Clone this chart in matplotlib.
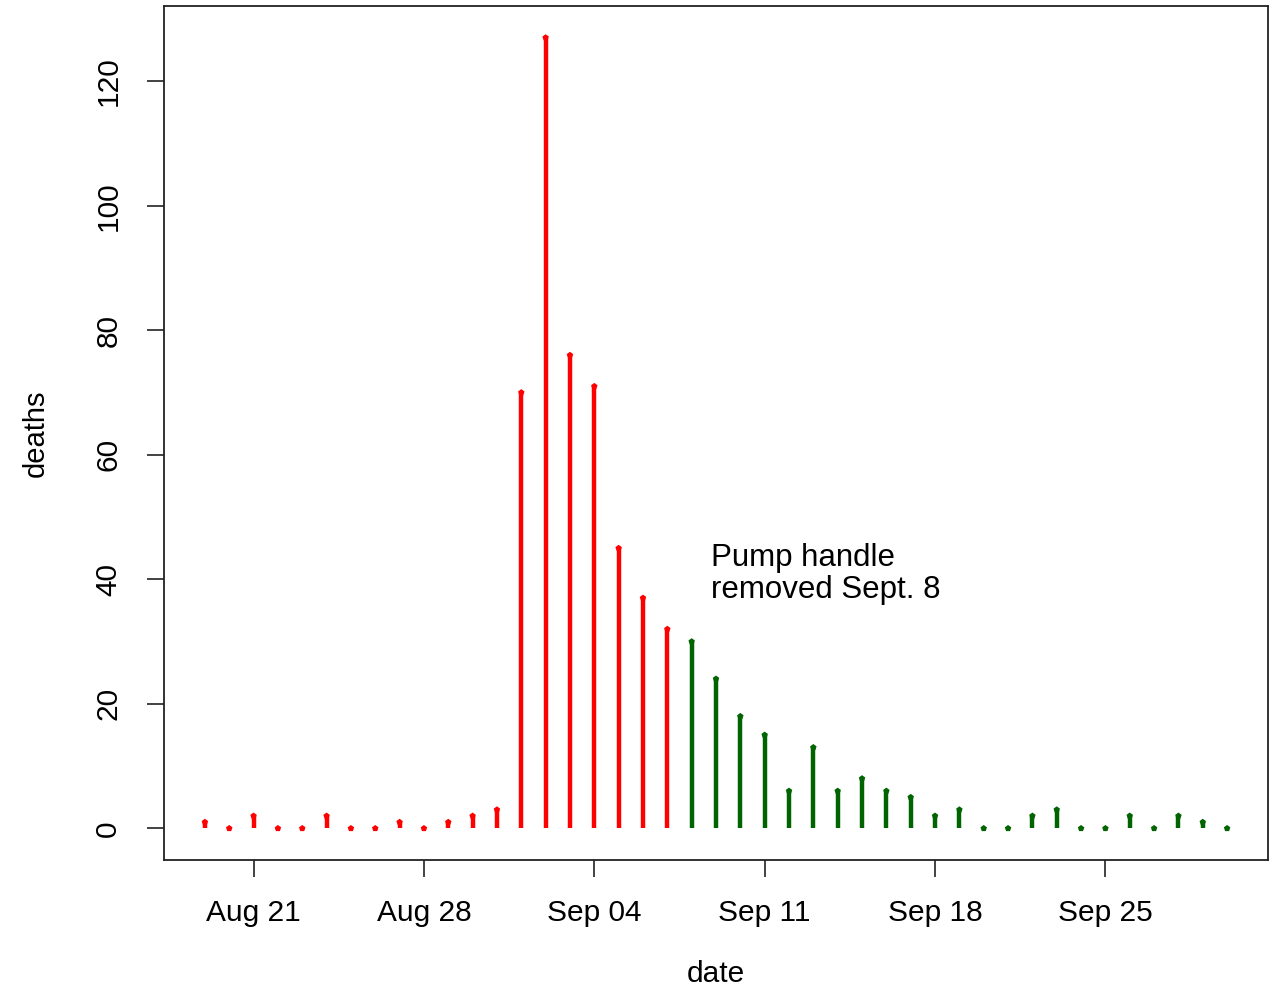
import matplotlib
matplotlib.use("Agg")
import matplotlib.pyplot as plt
import numpy as np
import datetime as dt
import matplotlib.dates as mdates

start_date = "1854-08-19"
deaths = [1, 0, 2, 0, 0, 2, 0, 0, 1, 0, 1, 2, 3, 70, 127, 76, 71, 45, 37, 32,
          30, 24, 18, 15, 6, 13, 6, 8, 6, 5, 2, 3, 0, 0, 2, 3, 0, 0, 2, 0, 2, 1, 0]
removal_date = "1854-09-08"
tick_labels = ["Aug 21", "Aug 28", "Sep 04", "Sep 11", "Sep 18", "Sep 25"]
tick_dates = ["1854-08-21", "1854-08-28", "1854-09-04", "1854-09-11", "1854-09-18", "1854-09-25"]
annotation = "Pump handle\nremoved Sept. 8"

plt.rcParams['font.family'] = ['Liberation Sans', 'DejaVu Sans']

d0 = dt.date.fromisoformat(start_date)
dates = [d0 + dt.timedelta(days=i) for i in range(len(deaths))]
x = mdates.date2num(dates)
xr = mdates.date2num(dt.date.fromisoformat(removal_date))
colors = ["red" if xi < xr else "#006400" for xi in x]

fig = plt.figure(figsize=(12.81, 9.91), dpi=100)
ax = fig.add_axes([164/1281, 1-860/991, (1268-164)/1281, (860-6)/991])

ax.vlines(x, 0, deaths, colors=colors, linewidth=3.2, capstyle='butt')
ax.scatter(x, deaths, c=colors, marker='p', s=24, zorder=3, linewidths=0)

rng = x[-1] - x[0]
ax.set_xlim(x[0] - 0.04*rng, x[-1] + 0.04*rng)
ymax = max(deaths)
ax.set_ylim(-0.04*ymax, ymax*1.04)

ax.set_xticks(mdates.date2num([dt.date.fromisoformat(t) for t in tick_dates]))
ax.set_xticklabels(tick_labels)
ax.set_yticks([0, 20, 40, 60, 80, 100, 120])
ax.tick_params(axis='both', direction='out', length=12, width=1.2, labelsize=21.5, colors='#222222', labelcolor='black')
ax.tick_params(axis='x', pad=16)
ax.tick_params(axis='y', pad=18)
for lab in ax.get_yticklabels():
    lab.set_rotation(90)
    lab.set_va('center')
for s in ax.spines.values():
    s.set_linewidth(1.3)
    s.set_color('#222222')

ax.set_xlabel("date", fontsize=21.5, labelpad=24)
ax.set_ylabel("deaths", fontsize=21, labelpad=32)

ax.text(xr + 0.8, 40.8, annotation, fontsize=22.5, ha='left', va='center', linespacing=1.1)

fig.savefig("out.png", dpi=100)
